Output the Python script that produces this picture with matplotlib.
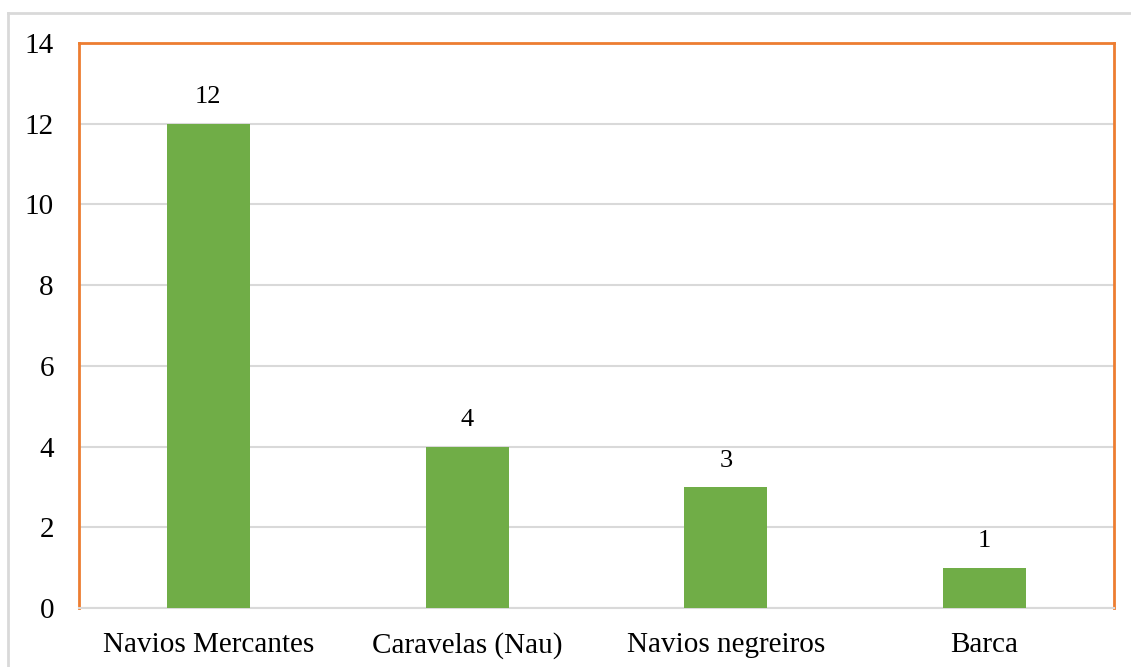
import matplotlib
matplotlib.use("Agg")
import matplotlib.pyplot as plt
from matplotlib.lines import Line2D

categories = ["Navios Mercantes", "Caravelas (Nau)", "Navios negreiros", "Barca"]
values = [12, 4, 3, 1]
yticks = [0, 2, 4, 6, 8, 10, 12, 14]

plt.rcParams['font.family'] = ['Liberation Serif', 'DejaVu Serif']

fig = plt.figure(figsize=(11.31, 6.67), dpi=100)
ax = fig.add_axes([79/1131, 1 - 608/667, (1114 - 79)/1131, (608 - 43)/667])

x = list(range(len(categories)))
ax.bar(x, values, width=0.32, color="#70AD47", zorder=3)
for xi, v in zip(x, values):
    ax.annotate(str(v), (xi, v), xytext=(0, 11), textcoords="offset points",
                ha="center", va="bottom", fontsize=19, color="#000000")

ax.set_xlim(-0.5, len(categories) - 0.5)
ax.set_ylim(0, 14)
ax.set_yticks(yticks)
ax.set_xticks(x)
ax.set_xticklabels(categories, fontsize=21)
ax.set_yticklabels([str(t) for t in yticks], fontsize=21)
ax.tick_params(axis="both", length=0)
ax.tick_params(axis="y", pad=18)
ax.tick_params(axis="x", pad=17)
ax.yaxis.grid(True, color="#D9D9D9", linewidth=1.5, zorder=0)
ax.set_axisbelow(True)

orange = "#ED7D31"
for s in ["left", "top", "right"]:
    ax.spines[s].set_color(orange)
    ax.spines[s].set_linewidth(2)
ax.spines["bottom"].set_color("#D9D9D9")
ax.spines["bottom"].set_linewidth(1.5)

# outer chart border (left and top visible)
fig.add_artist(Line2D([8/1131, 8/1131], [0, 1 - 13/667], transform=fig.transFigure,
                      color="#D9D9D9", linewidth=2))
fig.add_artist(Line2D([8/1131, 1], [1 - 13/667, 1 - 13/667], transform=fig.transFigure,
                      color="#D9D9D9", linewidth=2))

fig.savefig("out.png", dpi=100)
